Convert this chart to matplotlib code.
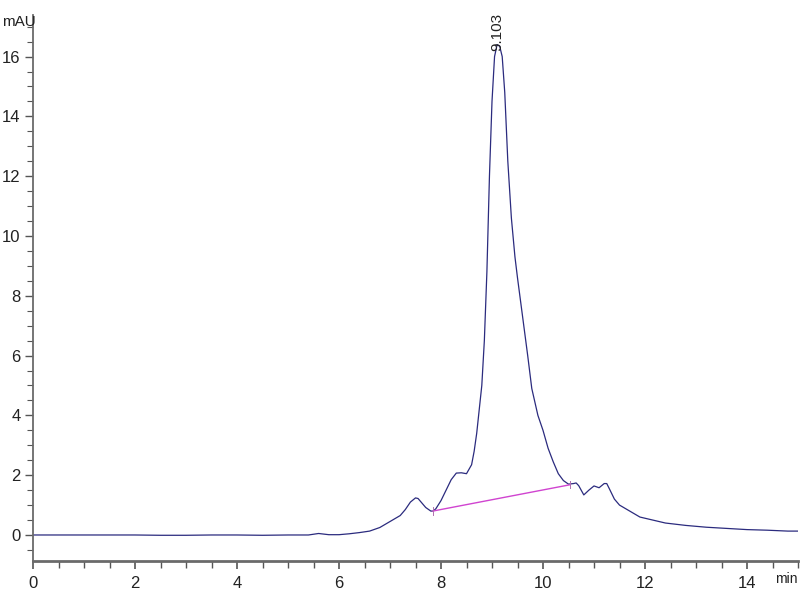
import matplotlib
matplotlib.use("Agg")
import matplotlib.pyplot as plt
from matplotlib.ticker import MultipleLocator
from matplotlib import font_manager

# ---- data ----
time_min = [0.0, 0.5, 1.0, 1.5, 2.0, 2.5, 3.0, 3.5, 4.0, 4.5, 5.0, 5.4, 5.6, 5.8,
            6.0, 6.2, 6.4, 6.6, 6.8, 6.9, 7.0, 7.1, 7.2, 7.3, 7.4, 7.5, 7.55, 7.6,
            7.7, 7.8, 7.85, 7.9, 8.0, 8.1, 8.2, 8.3, 8.4, 8.5, 8.6, 8.65, 8.7, 8.75,
            8.8, 8.85, 8.9, 8.95, 9.0, 9.05, 9.1, 9.15, 9.2, 9.25, 9.31, 9.38, 9.45,
            9.5, 9.6, 9.7, 9.78, 9.9, 10.0, 10.1, 10.2, 10.3, 10.4, 10.5, 10.6, 10.65,
            10.7, 10.8, 10.9, 11.0, 11.1, 11.2, 11.25, 11.3, 11.4, 11.5, 11.7, 11.9,
            12.1, 12.4, 12.8, 13.2, 13.6, 14.0, 14.4, 14.8, 15.0]
signal_mau = [0.0, 0.0, 0.0, 0.0, 0.0, -0.01, -0.01, 0.0, 0.0, -0.01, 0.0, 0.0, 0.05, 0.01,
              0.01, 0.04, 0.08, 0.13, 0.25, 0.35, 0.45, 0.55, 0.65, 0.85, 1.1, 1.24, 1.22, 1.12,
              0.92, 0.8, 0.8, 0.88, 1.15, 1.5, 1.85, 2.07, 2.08, 2.05, 2.35, 2.8, 3.4, 4.2,
              5.0, 6.5, 8.8, 12.0, 14.5, 16.0, 16.4, 16.35, 16.0, 14.8, 12.5, 10.6, 9.3,
              8.6, 7.3, 6.0, 4.9, 4.0, 3.5, 2.9, 2.45, 2.05, 1.82, 1.7, 1.72, 1.74,
              1.65, 1.34, 1.5, 1.64, 1.58, 1.72, 1.72, 1.55, 1.2, 1.0, 0.8, 0.6,
              0.52, 0.4, 0.32, 0.26, 0.22, 0.18, 0.16, 0.13, 0.13]

baseline_t = [7.84, 10.53]
baseline_y = [0.80, 1.68]

peak_label = "9.103"
peak_t = 9.103
peak_y = 16.2

x_ticks = [0, 2, 4, 6, 8, 10, 12, 14]
y_ticks = [0, 2, 4, 6, 8, 10, 12, 14, 16]

# ---- fonts ----
names = {f.name for f in font_manager.fontManager.ttflist}
fam = ['Liberation Sans Narrow', 'DejaVu Sans'] if 'Liberation Sans Narrow' in names else ['Liberation Sans', 'DejaVu Sans']
plt.rcParams['font.family'] = fam

fig = plt.figure(figsize=(8, 6), dpi=100)
ax = fig.add_axes([33/800, 39/600, 765/800, 546/600])

ax.plot(time_min, signal_mau, color='#2b2b7e', lw=0.9)
ax.plot(baseline_t, baseline_y, color='#d044d0', lw=1.0)
for bt, by in zip(baseline_t, baseline_y):
    ax.plot([bt, bt], [by - 0.12, by + 0.12], color='#b070b0', lw=0.7)

ax.text(peak_t, peak_y, peak_label, rotation=90, ha='center', va='bottom',
        fontsize=11, color='#222222')

ax.set_xlim(0, 15)
ax.set_ylim(-0.87, 17.39)

for s in ['top', 'right']:
    ax.spines[s].set_visible(False)
ax.spines['left'].set_color('#6a6a6a')
ax.spines['left'].set_linewidth(1.3)
ax.spines['bottom'].set_color('#6a6a6a')
ax.spines['bottom'].set_linewidth(2.0)

ax.set_xticks(x_ticks)
ax.set_yticks(y_ticks)
ax.xaxis.set_minor_locator(MultipleLocator(0.5))
ax.yaxis.set_minor_locator(MultipleLocator(0.5))
ax.tick_params(axis='both', which='both', direction='out', color='#555555',
               labelsize=12, labelcolor='#222222')
ax.tick_params(axis='x', which='major', length=6, width=1.2, pad=5)
ax.tick_params(axis='x', which='minor', length=5, width=1.0)
ax.tick_params(axis='y', which='major', length=6, width=1.0, pad=3)
ax.tick_params(axis='y', which='minor', length=4, width=0.8)

fig.text(2/800, 1 - 22/600, 'mAU', ha='left', va='center', fontsize=11, color='#222222')
fig.text(798/800, 1 - 579/600, 'min', ha='right', va='center', fontsize=10, color='#222222')

fig.savefig('out.png', dpi=100, facecolor='white')
